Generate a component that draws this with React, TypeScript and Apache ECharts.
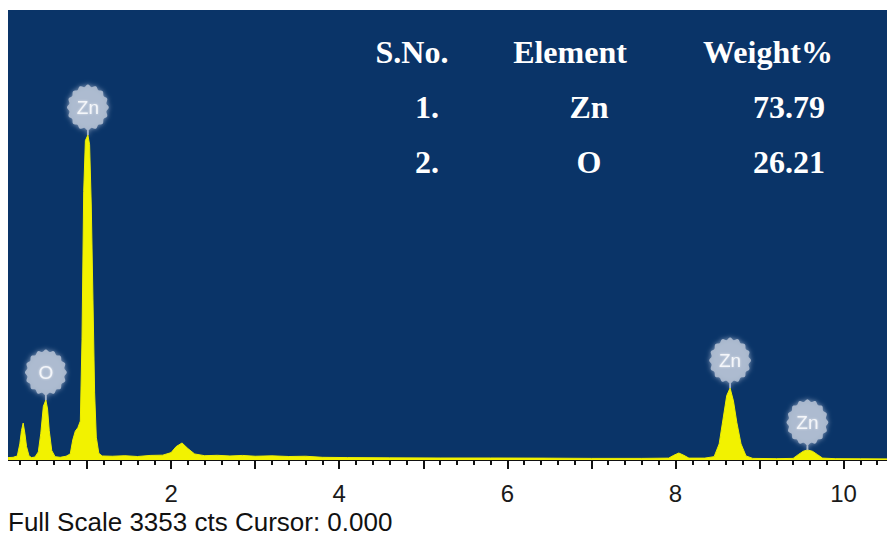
import React, { useEffect, useRef } from 'react';
import * as echarts from 'echarts';

// Spectrum (energy in keV, counts)
const spectrumKeV = [
  0.06, 0.12, 0.17, 0.2, 0.22, 0.24, 0.26, 0.28, 0.31, 0.34, 0.38, 0.42, 0.45, 0.48, 0.51, 0.53, 0.55, 0.58,
  0.62, 0.68, 0.75, 0.8, 0.83, 0.86, 0.89, 0.92, 0.94, 0.96, 0.98, 1.01, 1.03, 1.05, 1.07, 1.09, 1.11, 1.14,
  1.18, 1.3, 1.45, 1.6, 1.75, 1.9, 2.0, 2.06, 2.13, 2.2, 2.28, 2.4, 2.55, 2.7, 2.85, 3.0, 3.2, 3.4, 3.6, 3.8,
  4.1, 4.6, 5.2, 5.8, 6.4, 7.0, 7.6, 7.92, 7.98, 8.04, 8.1, 8.16, 8.35, 8.46, 8.52, 8.57, 8.61, 8.65, 8.69,
  8.73, 8.78, 8.84, 8.92, 9.2, 9.4, 9.46, 9.52, 9.57, 9.63, 9.69, 9.75, 9.9, 10.2, 10.6,
];
const spectrumCounts = [
  18, 20, 30, 120, 220, 275, 200, 100, 30, 18, 22, 60, 200, 400, 447, 380, 220, 70,
  25, 20, 28, 45, 150, 215, 240, 290, 900, 2000, 2380, 2421, 2350, 1900, 1200, 500, 170, 50,
  30, 28, 32, 26, 34, 36, 55, 100, 127, 85, 45, 32, 35, 30, 34, 28, 31, 26, 28, 20,
  18, 16, 15, 15, 14, 12, 12, 14, 35, 52, 35, 14, 14, 25, 120, 320, 480, 536, 440,
  280, 120, 30, 12, 10, 12, 40, 65, 75, 65, 40, 14, 10, 9, 8,
];

const peakKeV = [1.01, 0.51, 8.65, 9.57];
const peakCounts = [2421, 447, 536, 75];
const peakElements = ['Zn', 'O', 'Zn', 'Zn'];

const fullScaleCounts = 3353;
const xTickLabels = [2, 4, 6, 8, 10];

const tableHeaders = ['S.No.', 'Element', 'Weight%'];
const tableSNo = ['1.', '2.'];
const tableElements = ['Zn', 'O'];
const tableWeights = ['73.79', '26.21'];

const footerText = 'Full Scale 3353 cts Cursor: 0.000';

function gearSymbol(): string {
  const cx = 20, cy = 20, teeth = 16, n = 128;
  let d = '';
  for (let i = 0; i < n; i++) {
    const t = (i / n) * 2 * Math.PI;
    const r = 19 + 1 * Math.cos(teeth * t);
    const x = cx + r * Math.sin(t);
    const y = cy - r * Math.cos(t);
    d += (i === 0 ? 'M' : 'L') + x.toFixed(2) + ' ' + y.toFixed(2) + ' ';
  }
  d += 'Z M19.1 38 L20.9 38 L20.9 44 L19.1 44 Z';
  return 'path://' + d;
}

export default function App() {
  const ref = useRef<HTMLDivElement>(null);

  useEffect(() => {
    document.body.style.margin = '0';
    document.body.style.overflow = 'hidden';
    const chart = echarts.init(ref.current!, null, { renderer: 'svg' });
    const data = spectrumKeV.map((k, i) => [k, spectrumCounts[i]]);

    const headerX = [412, 570, 768];
    const serif = '"Liberation Serif", "Times New Roman", serif';
    const textEls: any[] = [];
    tableHeaders.forEach((h, i) => {
      textEls.push({
        type: 'text', x: headerX[i], y: 51.5, z: 50,
        style: { text: h, fill: '#ffffff', fontSize: 32, fontWeight: 'bold', fontFamily: serif, align: 'center', verticalAlign: 'middle' },
      });
    });
    const rowY = [106.5, 161.5];
    tableSNo.forEach((s, i) => {
      textEls.push({
        type: 'text', x: 427, y: rowY[i], z: 50,
        style: { text: s, fill: '#ffffff', fontSize: 32, fontWeight: 'bold', fontFamily: serif, align: 'center', verticalAlign: 'middle' },
      });
      textEls.push({
        type: 'text', x: 589, y: rowY[i], z: 50,
        style: { text: tableElements[i], fill: '#ffffff', fontSize: 32, fontWeight: 'bold', fontFamily: serif, align: 'center', verticalAlign: 'middle' },
      });
      textEls.push({
        type: 'text', x: 825, y: rowY[i], z: 50,
        style: { text: tableWeights[i], fill: '#ffffff', fontSize: 32, fontWeight: 'bold', fontFamily: serif, align: 'right', verticalAlign: 'middle' },
      });
    });

    const s = 1.15;
    const symW = 40 * s, symH = 44 * s;
    chart.setOption({
      animation: false,
      backgroundColor: '#ffffff',
      grid: {
        left: 3, right: 0, top: 10, bottom: 84,
        show: true, backgroundColor: '#0a3468', borderWidth: 0,
      },
      xAxis: {
        type: 'value', min: 0, max: 10.6, interval: 1,
        axisLine: { show: true, onZero: false, lineStyle: { color: '#111111', width: 1 } },
        axisTick: { show: true, length: 9, lineStyle: { color: '#111111', width: 2 } },
        minorTick: { show: true, splitNumber: 5, length: 5, lineStyle: { color: '#111111', width: 2 } },
        splitLine: { show: false },
        minorSplitLine: { show: false },
        axisLabel: {
          formatter: (v: number) => (xTickLabels.includes(v) ? String(v) : ''),
          fontSize: 24, fontFamily: '"Liberation Sans", Arial, sans-serif', color: '#1a1a1a', margin: 21,
        },
      },
      yAxis: { type: 'value', min: 0, max: fullScaleCounts, show: false, splitLine: { show: false } },
      series: [
        {
          type: 'line',
          data,
          showSymbol: false,
          symbol: 'none',
          lineStyle: { color: '#eeee00', width: 1 },
          areaStyle: { color: '#f2f200', opacity: 1 },
          z: 2,
          markPoint: {
            symbol: gearSymbol(),
            symbolSize: [symW, symH],
            symbolKeepAspect: true,
            symbolOffset: [0, '-50%'],
            itemStyle: { color: 'rgba(176,190,210,0.9)', shadowBlur: 5, shadowColor: 'rgba(205,215,232,0.75)' },
            label: {
              show: true, position: 'inside', offset: [0, -(symH / 2 - 20 * s)], formatter: '{b}',
              color: '#f4f6fa', fontSize: 19, fontFamily: '"Liberation Sans", Arial, sans-serif',
              textShadowBlur: 2, textShadowColor: 'rgba(255,255,255,0.6)',
            },
            data: peakKeV.map((k, i) => ({ name: peakElements[i], coord: [k, peakCounts[i]] })),
          },
        },
      ],
      graphic: [
        { type: 'rect', shape: { x: 0, y: 0, width: 8, height: 544 }, style: { fill: '#ffffff' }, z: 100 },
        ...textEls,
        {
          type: 'text', x: 8, y: 522, z: 50,
          style: { text: footerText, fill: '#111111', fontSize: 26, fontFamily: '"Liberation Sans", Arial, sans-serif', align: 'left', verticalAlign: 'middle' },
        },
      ],
    });
    return () => chart.dispose();
  }, []);

  return <div ref={ref} style={{ position: 'fixed', left: 0, top: 0, width: 897, height: 544 }} />;
}
